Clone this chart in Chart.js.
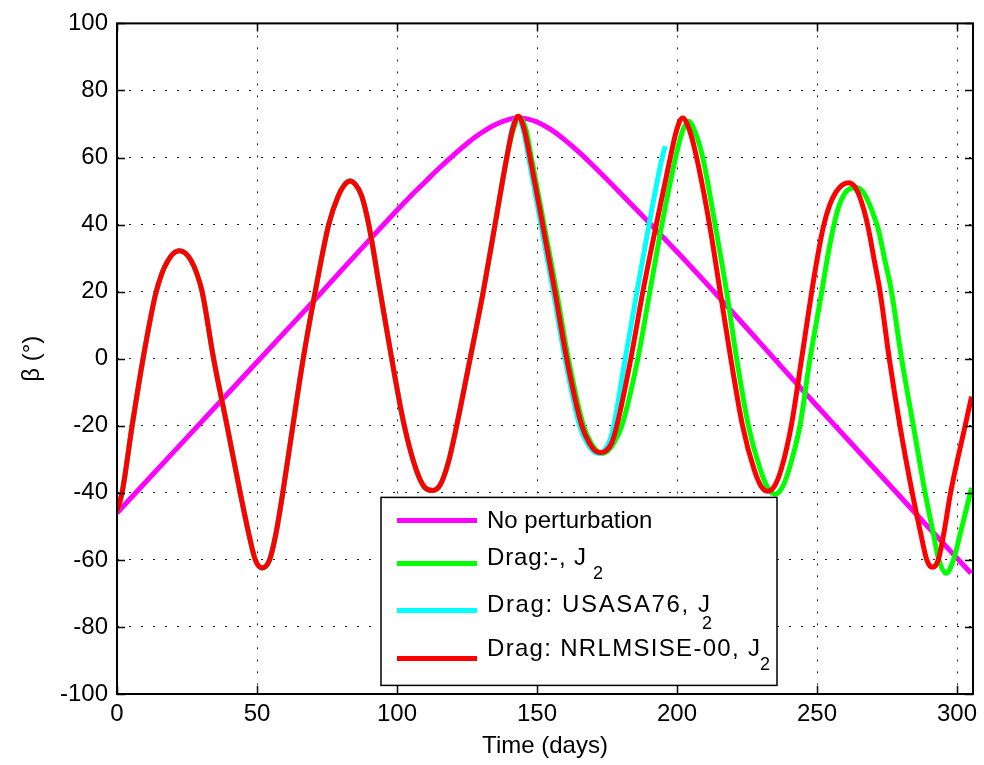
<!DOCTYPE html>
<html>
<head>
<meta charset="utf-8">
<script src="https://cdn.jsdelivr.net/npm/chart.js@4"></script>
<style>
html, body { margin: 0; padding: 0; background: #fff; }
</style>
</head>
<body>
<canvas id="myChart" width="984" height="765"></canvas>
<script>
// axis ticks
var xTicks = [0, 50, 100, 150, 200, 250, 300];
var yTicks = [-100, -80, -60, -40, -20, 0, 20, 40, 60, 80, 100];

// no perturbation
var noPertDays = [0, 10, 20, 30, 40, 50, 60, 70, 80, 90, 100, 105, 110, 115, 120, 125, 130, 135, 140, 143, 146,
    150, 155, 160, 165, 170, 180, 190, 200, 210, 220, 230, 240, 250, 260, 270, 280, 290, 300, 305];
var noPertBeta = [-46, -37, -28, -19, -10, -1, 8, 17, 26.2, 35.3, 44.3, 48.6, 52.7, 56.8, 60.6, 64.2, 67.3, 69.8,
    71.4, 71.8, 71.6, 70.6, 68.3, 65.2, 61.6, 57.6, 49.2, 40.6, 31.9, 22.9, 13.7, 4.4, -4.9, -14.1, -23.2,
    -32.3, -41.4, -50.5, -59.5, -64];

// the three J2 runs are the same until ~140 days
var earlyDays = [0, 1.8, 5.4, 9.3, 13.7, 16, 18, 20, 22.3, 24.5, 26.5, 28.5, 30.4, 34.5, 39.3, 44, 47, 49.4,
    51.8, 54.5, 56.8, 59.2, 62.8, 66.5, 70.8, 75.6, 79, 81.2, 83.2, 85.3, 87.4, 89.9, 94, 98.1, 102.6, 106.8,
    109.8, 112.7, 115.5, 118.3, 121.3, 126.1, 130.8, 135, 139.2];
var earlyBeta = [-45.5, -40, -20, 0, 19, 25.4, 29, 31.3, 32.2, 31.4, 29.2, 25.4, 20, 0, -20, -40, -52, -60,
    -62.4, -60, -52, -40, -20, 0, 20, 40, 48.5, 51.8, 53, 51.8, 48.5, 40, 20, 0, -20, -33,
    -38.3, -39.3, -37.5, -31, -20, 0, 20, 40, 60];

// Drag: NRLMSISE-00, J2
var nrlDays = [141.3, 143.3, 145.4, 147.5, 152, 156.4, 160.6, 166, 168.8, 170.8, 172.7, 174.6, 176.6, 178.5,
    183.5, 187.8, 192.6, 197.6, 199.8, 202, 204.5, 207, 211.6, 215.4, 219.2, 223.4, 227.5, 230, 232.4, 234.8,
    237.2, 240.8, 244.5, 248.1, 250.2, 252.3, 254.5, 256.7, 259, 261.2, 263.2, 265, 266.7, 268.3, 270.4, 272.5,
    275.8, 279.6, 284, 287, 289.2, 291.2, 293.3, 295.3, 297.7, 302.9, 305.2];
var nrlBeta = [68.5, 72.3, 68.5, 60, 40, 20, 0, -20, -25.3, -27.5, -28, -27.5, -25.3, -20,
    0, 20, 40, 60, 68, 71.8, 68, 60, 40, 20, 0, -20, -33, -38, -39.5, -38,
    -33, -20, 0, 20, 30.5, 39.5, 45.8, 49.6, 51.8, 52.5, 51.6, 48.8, 44.5, 39, 29.5, 20,
    0, -20, -40, -52, -60, -62.2, -60, -52, -40, -20, -11.3];

// Drag:-, J2
var noDragDays = [141.6, 143.8, 146, 148, 152.5, 157, 161.2, 166.6, 169.4, 171.4, 173.3, 175.3, 177.3, 180.3,
    186, 190.3, 194.6, 199.5, 201.8, 204.1, 206.5, 209.2, 213.6, 217.7, 221.3, 225.5, 229.7, 232.4, 235, 237.5,
    240, 243.9, 247.5, 251.7, 253.8, 255.8, 257.8, 259.9, 262, 264.2, 266.2, 268, 270, 271.9, 274.2, 276.6,
    280.2, 284.4, 288.6, 291.5, 293.5, 296.1, 298.7, 301.5, 305.2];
var noDragBeta = [68.5, 72, 68.5, 60, 40, 20, 0, -20, -25.3, -27.5, -28.3, -27.5, -25.3, -20,
    0, 20, 40, 60, 67.5, 70.8, 67.5, 60, 40, 20, 0, -20, -33, -38.5, -40.4, -38.5,
    -33, -20, 0, 20, 30.5, 39, 45.5, 49.3, 50.8, 51, 50, 47.4, 43.3, 38.5, 29.5, 20,
    0, -20, -40, -52, -60, -64, -60, -51, -38.5];

// Drag: USASA76, J2 (stops at ~196 days)
var usaDays = [141, 143, 145, 147, 151.4, 155.8, 160, 165.2, 168, 170, 172, 174, 175.8, 177.4, 181.5, 185.7,
    190, 194.7, 195.8];
var usaBeta = [68.5, 72.3, 68.5, 60, 40, 20, 0, -20, -25.3, -27.5, -28.3, -27.4, -24.8, -20, 0, 20,
    40, 60, 63.4];

var legendNames = ['No perturbation', 'Drag:-, J', 'Drag: USASA76, J', 'Drag: NRLMSISE-00, J'];
var legendSub = ['', '2', '2', '2'];

function pts(days, beta) {
    return days.map((d, i) => ({ x: d, y: beta[i] }));
}

var FONT = 'Arial, "Liberation Sans", Helvetica, sans-serif';

function lineSet(label, color, data, order) {
    return {
        label: label,
        data: data,
        borderColor: color,
        backgroundColor: color,
        borderWidth: 5,
        pointRadius: 0,
        fill: false,
        cubicInterpolationMode: 'monotone',
        borderJoinStyle: 'round',
        order: order
    };
}

// box, inward ticks and the legend, matlab style
var matlabBox = {
    id: 'matlabBox',
    afterDraw(chart) {
        var ctx = chart.ctx, a = chart.chartArea;
        var sx = chart.scales.x, sy = chart.scales.y;
        ctx.save();
        ctx.strokeStyle = '#000';
        ctx.lineWidth = 1.5;
        ctx.beginPath();
        xTicks.forEach(v => {
            var px = Math.round(sx.getPixelForValue(v)) + 0.5;
            ctx.moveTo(px, a.bottom); ctx.lineTo(px, a.bottom - 8);
            ctx.moveTo(px, a.top); ctx.lineTo(px, a.top + 8);
        });
        yTicks.forEach(v => {
            var py = Math.round(sy.getPixelForValue(v)) + 0.5;
            ctx.moveTo(a.left, py); ctx.lineTo(a.left + 8, py);
            ctx.moveTo(a.right, py); ctx.lineTo(a.right - 8, py);
        });
        ctx.stroke();
        ctx.lineWidth = 2;
        ctx.strokeRect(a.left, a.top, a.right - a.left, a.bottom - a.top);

        // legend
        var bx = a.left + 264, by = a.top + 474, bw = 396, bh = 188;
        ctx.fillStyle = '#fff';
        ctx.fillRect(bx, by, bw, bh);
        ctx.lineWidth = 1.5;
        ctx.strokeRect(bx, by, bw, bh);
        var rowY = [23, 66, 113, 161];
        var baseOff = [8, 2, 2, -2];
        var subOff = [0, 14, 17, 14];
        var jPos = [0, 87, 211, 261];
        var subPos = [0, 106, 215, 273];
        chart.data.datasets.forEach((ds, i) => {
            var y = by + rowY[i];
            ctx.strokeStyle = ds.borderColor;
            ctx.lineWidth = 5;
            ctx.beginPath();
            ctx.moveTo(bx + 16, y);
            ctx.lineTo(bx + 96, y);
            ctx.stroke();
            ctx.fillStyle = '#000';
            ctx.font = '24px ' + FONT;
            ctx.textBaseline = 'alphabetic';
            ctx.textAlign = 'left';
            var tx = bx + 106;
            var name = legendNames[i];
            if (legendSub[i]) {
                var pre = name.slice(0, -1);
                var w = ctx.measureText(pre).width;
                var sp = Math.max(0, (jPos[i] - w) / pre.length);
                ctx.letterSpacing = sp.toFixed(2) + 'px';
                ctx.fillText(pre, tx, y + baseOff[i]);
                ctx.letterSpacing = '0px';
                ctx.fillText('J', tx + jPos[i], y + baseOff[i]);
                ctx.font = '18px ' + FONT;
                ctx.fillText(legendSub[i], tx + subPos[i], y + baseOff[i] + subOff[i]);
            } else {
                ctx.fillText(name, tx, y + baseOff[i]);
            }
        });
        ctx.restore();
    }
};

var ctx = document.getElementById('myChart').getContext('2d');
var myChart = new Chart(ctx, {
    type: 'line',
    data: {
        datasets: [
            lineSet(legendNames[0], '#ff00ff', pts(noPertDays, noPertBeta), 3),
            lineSet(legendNames[1], '#00ff00', pts(earlyDays.concat(noDragDays), earlyBeta.concat(noDragBeta)), 2),
            lineSet(legendNames[2], '#00ffff', pts(earlyDays.concat(usaDays), earlyBeta.concat(usaBeta)), 1),
            lineSet(legendNames[3], '#ff0000', pts(earlyDays.concat(nrlDays), earlyBeta.concat(nrlBeta)), 0)
        ]
    },
    options: {
        responsive: false,
        animation: false,
        devicePixelRatio: 1,
        layout: { padding: { left: 0, top: 20, right: 11, bottom: 0 } },
        plugins: {
            legend: { display: false },
            tooltip: { enabled: false }
        },
        scales: {
            x: {
                type: 'linear',
                min: 0,
                max: 305.7,
                afterBuildTicks: s => { s.ticks = xTicks.map(v => ({ value: v })); },
                afterFit: s => { s.height = 71; },
                grid: { color: '#222', lineWidth: 1, drawTicks: false },
                border: { display: false, dash: [2, 10] },
                ticks: { color: '#000', padding: 6, maxRotation: 0, font: { size: 24, family: FONT } },
                title: { display: true, text: 'Time (days)', color: '#000', padding: { top: 0, bottom: 4 },
                    font: { size: 24, family: FONT } }
            },
            y: {
                type: 'linear',
                min: -100,
                max: 100,
                afterBuildTicks: s => { s.ticks = yTicks.map(v => ({ value: v })); },
                afterFit: s => { s.width = 117; },
                grid: { color: '#222', lineWidth: 1, drawTicks: false },
                border: { display: false, dash: [2, 10] },
                ticks: { color: '#000', padding: 9, font: { size: 24, family: FONT } },
                title: { display: true, text: 'β (°)', color: '#000', padding: { top: 18, bottom: 0 },
                    font: { size: 24, family: FONT } }
            }
        }
    },
    plugins: [matlabBox]
});
</script>
</body>
</html>
